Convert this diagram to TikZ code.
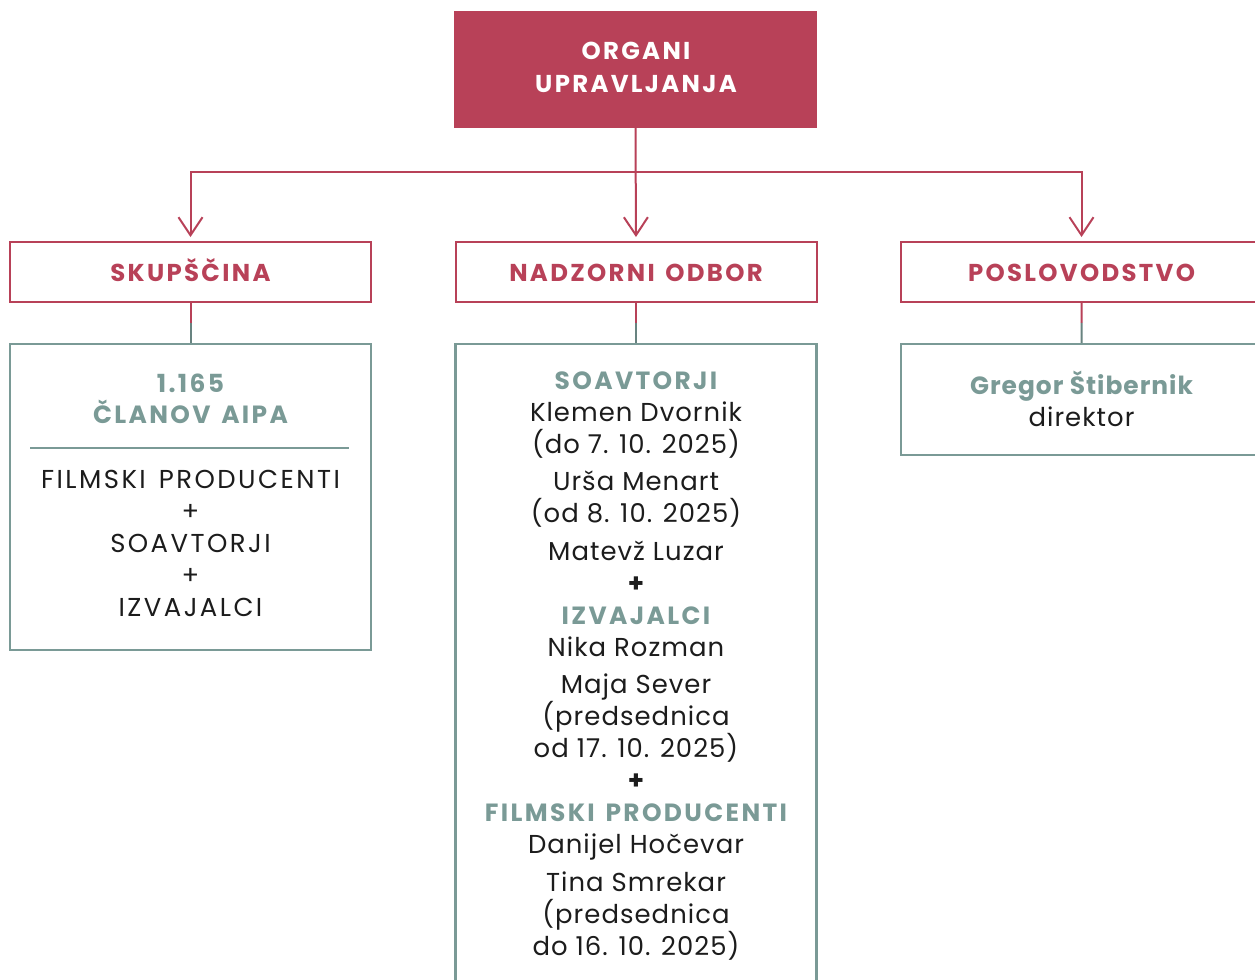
\documentclass[tikz,border=0pt]{standalone}
\usepackage{fontspec}
\setmainfont{Poppins}[LetterSpace=4]
\newfontfamily\capsf{Poppins}[LetterSpace=9.5, WordSpace=1.4]
\usetikzlibrary{arrows.meta,calc}
\definecolor{rd}{RGB}{184,65,88}
\definecolor{tl}{RGB}{122,154,150}
\definecolor{ink}{RGB}{28,28,28}
\newcommand{\ttl}{\capsf\color{tl}\bfseries\fontsize{25}{32}\selectfont}
\newcommand{\ttlmix}{\color{tl}\bfseries\fontsize{25}{32}\selectfont}
\newcommand{\cp}{\capsf\fontsize{26}{32}\selectfont}
\begin{document}
\begin{tikzpicture}[x=1bp,y=-1bp,
  topbox/.style={fill=rd, draw=none, minimum width=363bp, minimum height=117bp, inner sep=0pt},
  toptxt/.style={align=center, inner sep=0pt, anchor=base, text=white, font=\capsf\bfseries\fontsize{24.5}{33}\selectfont},
  redbox/.style={draw=rd, line width=2bp, fill=white, minimum width=361bp, minimum height=60bp, inner sep=0pt,
     text=rd, text height=19bp, text depth=0bp, font=\capsf\bfseries\fontsize{24.5}{26}\selectfont},
  tealbox/.style={draw=tl, line width=2.5bp, minimum width=361bp, inner sep=0pt},
  txt/.style={align=center, inner sep=0pt, anchor=base, text=ink, font=\fontsize{26}{32}\selectfont},
  conn/.style={draw=rd, line width=2bp},
  arr/.style={conn, -{Straight Barb[length=18bp,width=24bp,line width=2bp]}, shorten >=4bp},
]
\useasboundingbox (0,0) rectangle (1255,980);
\clip (0,0) rectangle (1255,980);

% top
\node[topbox] (top) at (635.5,69.5) {};
\node[toptxt] (toplbl) at (636,92) {ORGANI\\UPRAVLJANJA};

% level 2
\node[redbox] (sk) at (190.5,272) {SKUPŠČINA};
\node[redbox] (nd) at (636,272) {NADZORNI ODBOR};
\node[redbox] (po) at (1081.5,272) {POSLOVODSTVO};

% level 3 boxes
\node[tealbox, minimum height=306bp] (skt) at (190.5,497) {};
\node[tealbox, minimum height=656bp] (ndt) at (636,672) {};
\node[tealbox, minimum height=111bp] (pot) at (1081.5,399.5) {};

% arrows
\coordinate (j) at (636,172);
\draw[arr] (top.south) -- (nd.north);
\draw[arr] (j) -| (sk.north);
\draw[arr] (j) -| (po.north);

% short connectors
\foreach \a/\b in {sk/skt, nd/ndt, po/pot}{
  \draw[conn] (\a.south) -- ($(\a.south)!0.5!(\b.north)$);
  \draw[draw=tl!85!black, line width=2bp] ($(\a.south)!0.5!(\b.north)$) -- (\b.north);
}

% left box
\node[txt, font=\capsf\bfseries\fontsize{25}{31}\selectfont, text=tl] (sktitle) at (190.5,423) {1.165\\ČLANOV AIPA};
\coordinate (dl) at (30,448);
\coordinate (dr) at (349,448);
\draw[draw=tl, line width=2.5bp] (dl) -- (dr);
\node[txt, font=\capsf\fontsize{26}{32}\selectfont] (skbody) at (190.5,616) {FILMSKI PRODUCENTI\\+\\SOAVTORJI\\+\\IZVAJALCI};

% middle box
\node[txt] (ndbody) at (636,955) {{\ttl SOAVTORJI}\\
Klemen Dvornik\\
(do 7. 10. 2025)\\[5.5bp]
Urša Menart\\
(od 8. 10. 2025)\\[6bp]
Matevž Luzar\\
{\bfseries +}\\
{\ttl IZVAJALCI}\\
Nika Rozman\\[6bp]
Maja Sever\\
(predsednica\\
od 17. 10. 2025)\\
{\bfseries +}\\
{\ttl FILMSKI PRODUCENTI}\\
Danijel Hočevar\\[6bp]
Tina Smrekar\\
(predsednica\\
do 16. 10. 2025)};

% right box
\node[txt] (pobody) at (1081.5,426) {{\ttlmix Gregor Štibernik}\\direktor};
\end{tikzpicture}
\end{document}
